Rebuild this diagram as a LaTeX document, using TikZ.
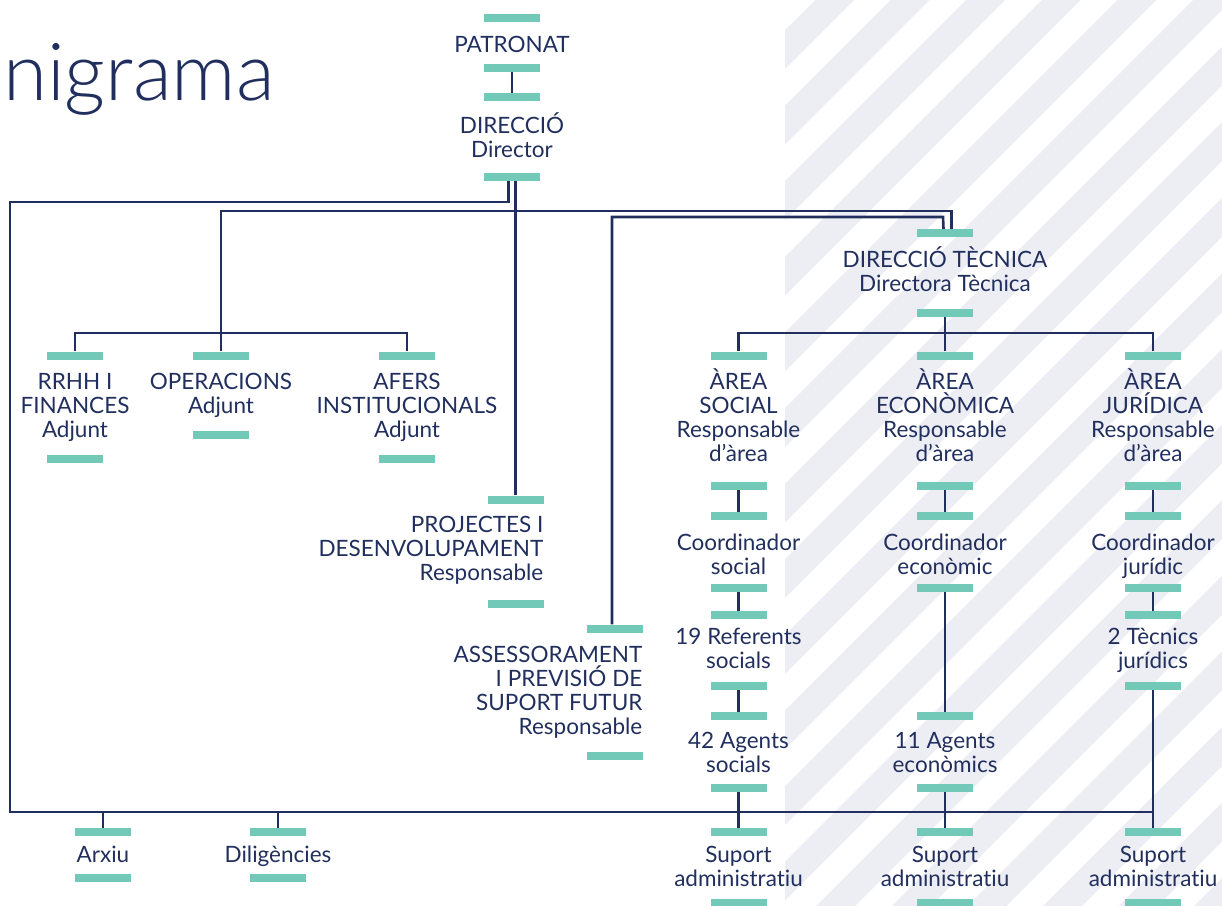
\documentclass[tikz,border=0pt]{standalone}
\usepackage{fontspec}
\setmainfont{Lato}[Ligatures=NoCommon]
\newfontfamily\titlefont{Lato Light}
\usetikzlibrary{positioning}
\definecolor{inkblue}{HTML}{212F5E}
\definecolor{mint}{HTML}{72C9B8}
\definecolor{stripegray}{HTML}{EDEEF4}
\tikzstyle{bar} = [rectangle, minimum width=56pt, minimum height=8pt, inner sep=0pt, fill=mint]
\tikzstyle{role} = [text=inkblue, align=center, inner sep=0pt, anchor=base, font=\fontsize{22.5}{24}\selectfont]
\tikzstyle{roleright} = [role, align=right, anchor=base east]
\tikzstyle{line} = [draw=inkblue, line width=2.6pt]
\tikzstyle{stripe} = [fill=stripegray]

\begin{document}
\begin{tikzpicture}[x=1pt, y=-1pt]
            \useasboundingbox (0,0) rectangle (1222,905);
            \clip (0,0) rectangle (1222,905);
            % Background stripes
            \begin{scope}
                \clip (785,0) rectangle (1222,905);
                \foreach \k in {-1,...,18} {
                    \pgfmathsetmacro\a{815+75.6*\k}
                    \fill [stripe] (\a,0) -- ++(39,0) -- ++(-1000,1000) -- ++(-39,0) -- cycle;
                }
            \end{scope}
            \node (title) [anchor=base east, text=inkblue, inner sep=0pt, font=\titlefont\fontsize{80}{90}\selectfont] at (275,100) {Organigrama};

            % Draw nodes (text nodes sit on the baseline of their last line)
            % Top line
            \node (pat1) [bar] at (512,17.5) {};
            \node (pat) [role] at (512,52) {PATRONAT};
            \node (pat2) [bar] at (512,68) {};
            \node (dir1) [bar] at (512,97) {};
            \node (dir) [role] at (512,157) {DIRECCIÓ\\Director};
            \node (dir2) [bar] at (512,177) {};

            % Left group
            \node (rrhh1) [bar] at (75,355.5) {};
            \node (rrhh) [role] at (75,437) {RRHH I\\FINANCES\\Adjunt};
            \node (rrhh2) [bar] at (75,459) {};
            \node (ops1) [bar] at (221,355.5) {};
            \node (ops) [role] at (221,413) {OPERACIONS\\Adjunt};
            \node (ops2) [bar] at (221,435) {};
            \node (afe1) [bar] at (407,355.5) {};
            \node (afe) [role] at (407,437) {AFERS\\INSTITUCIONALS\\Adjunt};
            \node (afe2) [bar] at (407,459) {};

            % Middle line
            \node (pro1) [bar] at (515.5,499.5) {};
            \node (pro) [roleright] at (543.5,580) {PROJECTES I\\DESENVOLUPAMENT\\Responsable};
            \node (pro2) [bar] at (515.5,603.5) {};
            \node (ass1) [bar] at (614.5,628.5) {};
            \node (ass) [roleright] at (642.5,734) {ASSESSORAMENT\\I PREVISIÓ DE\\SUPORT FUTUR\\Responsable};
            \node (ass2) [bar] at (614.5,755.5) {};

            % Right line
            \node (dt1) [bar] at (945,233) {};
            \node (dt) [role] at (945,291) {DIRECCIÓ TÈCNICA\\Directora Tècnica};
            \node (dt2) [bar] at (945,313) {};

            % Social area
            \node (soc1) [bar] at (738.5,355.5) {};
            \node (soc) [role] at (738.5,461) {ÀREA\\SOCIAL\\Responsable\\d’àrea};
            \node (soc2) [bar] at (738.5,486) {};
            \node (csoc1) [bar] at (738.5,516) {};
            \node (csoc) [role] at (738.5,574) {Coordinador\\social};
            \node (csoc2) [bar] at (738.5,588) {};
            \node (ref1) [bar] at (738.5,615) {};
            \node (ref) [role] at (738.5,668) {19 Referents\\socials};
            \node (ref2) [bar] at (738.5,686) {};
            \node (ags1) [bar] at (738.5,716) {};
            \node (ags) [role] at (738.5,772) {42 Agents\\socials};
            \node (ags2) [bar] at (738.5,788) {};
            \node (sups1) [bar] at (738.5,832) {};
            \node (sups) [role] at (738.5,886) {Suport\\administratiu};
            \node (sups2) [bar] at (738.5,903) {};

            % Economic area
            \node (eco1) [bar] at (945,355.5) {};
            \node (eco) [role] at (945,461) {ÀREA\\ECONÒMICA\\Responsable\\d’àrea};
            \node (eco2) [bar] at (945,486) {};
            \node (ceco1) [bar] at (945,516) {};
            \node (ceco) [role] at (945,574) {Coordinador\\econòmic};
            \node (ceco2) [bar] at (945,588) {};
            \node (age1) [bar] at (945,716) {};
            \node (age) [role] at (945,772) {11 Agents\\econòmics};
            \node (age2) [bar] at (945,788) {};
            \node (supe1) [bar] at (945,832) {};
            \node (supe) [role] at (945,886) {Suport\\administratiu};
            \node (supe2) [bar] at (945,903) {};

            % Legal area
            \node (jur1) [bar] at (1153,355.5) {};
            \node (jur) [role] at (1153,461) {ÀREA\\JURÍDICA\\Responsable\\d’àrea};
            \node (jur2) [bar] at (1153,486) {};
            \node (cjur1) [bar] at (1153,516) {};
            \node (cjur) [role] at (1153,574) {Coordinador\\jurídic};
            \node (cjur2) [bar] at (1153,588) {};
            \node (tec1) [bar] at (1153,615) {};
            \node (tec) [role] at (1153,668) {2 Tècnics\\jurídics};
            \node (tec2) [bar] at (1153,686) {};
            \node (supj1) [bar] at (1153,832) {};
            \node (supj) [role] at (1153,886) {Suport\\administratiu};
            \node (supj2) [bar] at (1153,903) {};

            % Bottom left
            \node (arx1) [bar] at (103,832) {};
            \node (arx) [role] at (103,862) {Arxiu};
            \node (arx2) [bar] at (103,878) {};
            \node (dil1) [bar] at (278,832) {};
            \node (dil) [role] at (278,862) {Diligències};
            \node (dil2) [bar] at (278,878) {};

            % Corners
            \coordinate (lw) at (10,202);
            \coordinate (lsw) at (10,812);
            \coordinate (lse) at (1153,812);
            \coordinate (hub) at (221,211);
            \coordinate (lb) at (221,333);
            \coordinate (ai) at (943,217);
            \coordinate (rb) at (945,333);

            % Draw lines
            % Main
            \path [line] (pat2) -- (dir1);
            \path [line] ([xshift=-3.5pt]dir2.south) |- (lw) -- (lsw) -- (lse);
            \path [line] ([xshift=3.5pt]dir2.south) -- (pro1.north);
            \path [line] ([xshift=6.5pt]dt1.north) |- (hub) -- (ops1.north);
            \path [line] ([xshift=-2.5pt]ass1.north) |- (ai) -- ([xshift=-1.5pt]dt1.north);

            % Left line
            \path [line] (rrhh1.north) |- (lb) -| (afe1.north);

            % Right line
            \path [line] (dt2) -- (rb);
            \path [line] (soc1.north) |- (rb) -| (jur1.north);
            \path [line] (rb) -- (eco1);
            \path [line] (soc2) -- (csoc1);
            \path [line] (csoc2) -- (ref1);
            \path [line] (ref2) -- (ags1);
            \path [line] (ags2) -- (sups1);
            \path [line] (eco2) -- (ceco1);
            \path [line] (ceco2) -- (age1);
            \path [line] (age2) -- (supe1);
            \path [line] (jur2) -- (cjur1);
            \path [line] (cjur2) -- (tec1);
            \path [line] (tec2) -- (supj1);

            % Other
            \path [line] (arx1) -- (arx1 |- lsw);
            \path [line] (dil1) -- (dil1 |- lsw);
        \end{tikzpicture}
\end{document}
